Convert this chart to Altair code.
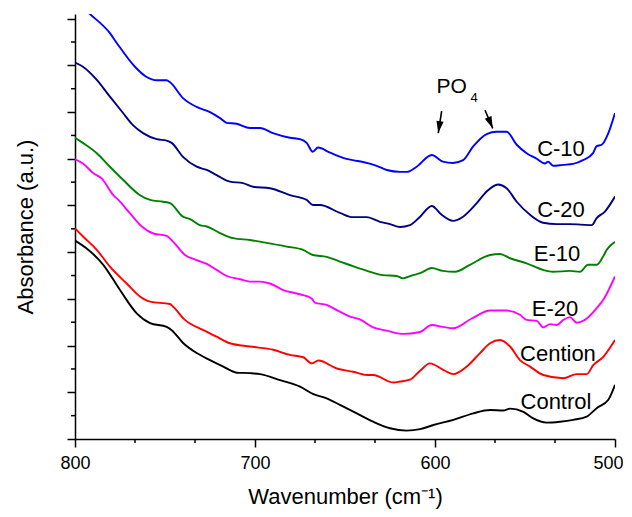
import altair as alt
import pandas as pd

# ---------------- data ----------------
wn_c10 = [800, 791.7, 780.6, 776.8, 766.7, 760.2, 754.6, 749.1, 747.2, 740, 732.4, 725, 719.4, 715.7,
          710.2, 702.8, 697.2, 690, 680.6, 675, 671.3, 667.9, 665, 658.3, 651.1, 645.6, 640, 632.4,
          626.8, 619.4, 615.7, 610.2, 601.8, 595.6, 590, 584.4, 578.9, 571.3, 565.7, 560.2, 554.6,
          549.1, 543.5, 538.9, 537.2, 534.4, 528.9, 523.3, 517.8, 512.2, 510.2, 507.4, 503.7, 500]
ab_c10 = [94.0, 91.0, 86.9, 84.8, 79.7, 77.5, 76.8, 76.8, 76.4, 73.0, 71.1, 70.0, 68.7, 67.7,
          67.5, 66.6, 66.6, 65.5, 64.5, 64.2, 63.4, 61.5, 62.4, 61.3, 60.2, 59.7, 59.3, 58.5,
          57.6, 57.2, 57.2, 58.3, 60.8, 59.4, 59.1, 59.7, 62.6, 65.3, 65.8, 65.8, 63.0,
          61.2, 60.0, 59.0, 59.4, 58.5, 58.7, 58.9, 59.7, 61.2, 62.7, 63.0, 65.5, 69.8]

wn_c20 = [800, 795.6, 787.9, 780.6, 773.3, 767.8, 762.2, 754.6, 749.1, 746.3, 740, 732.4, 726.8,
          721.3, 713.9, 706.7, 701.1, 691.7, 680.6, 671.3, 667.8, 663.9, 652.8, 645.6, 637.9, 630.6,
          625, 619.4, 613.9, 608.3, 601.8, 596.3, 590, 584.4, 576.8, 571.3, 565, 560.2, 554.6, 547.2,
          540, 532.4, 525, 512.9, 510.2, 505.6, 500]
ab_c20 = [80.6, 79.7, 76.9, 73.3, 69.8, 67.2, 65.5, 64.2, 63.9, 63.4, 60.4, 58.3, 57.6,
          56.5, 55.1, 54.8, 54.0, 53.7, 52.2, 51.2, 50.1, 50.1, 48.4, 47.5, 47.5, 46.5,
          46.0, 45.4, 45.8, 47.6, 49.9, 48.0, 46.7, 47.6, 50.5, 53.0, 54.5, 53.7, 50.8, 48.0,
          46.3, 46.0, 46.0, 45.8, 47.3, 48.7, 51.9]

wn_e10 = [800, 795.6, 787.9, 780.6, 773.3, 763.9, 758.3, 751.1, 747.2, 740, 736.1, 730.6, 726.8,
          719.4, 712.2, 702.8, 693.5, 682.4, 673.3, 667.8, 660.2, 652.8, 645.6, 636.1, 628.9, 621.3,
          617.8, 612.2, 608.3, 601.8, 595.6, 588.9, 580.6, 569.4, 563.9, 558.3, 549.1, 540, 534.4,
          525, 519.4, 515, 510.2, 506.7, 504.6, 500]
ab_e10 = [64.5, 63.4, 61.2, 58.3, 55.5, 52.2, 51.2, 50.8, 50.5, 47.6, 47.1, 45.8, 45.5,
          44.1, 43.0, 42.6, 42.0, 41.2, 40.5, 39.4, 39.0, 38.0, 37.0, 35.8, 35.1, 34.9,
          34.4, 35.1, 35.5, 36.6, 36.0, 35.8, 37.3, 39.4, 39.6, 38.7, 37.6, 36.2, 35.8,
          36.0, 35.8, 37.3, 37.3, 39.0, 40.5, 42.2]

wn_e20 = [800, 795.6, 789.8, 785.2, 778.7, 775.9, 769.4, 762.9, 756.5, 749.1, 745.4, 738.9, 732.4,
          726.8, 721.3, 715.7, 708.3, 702.8, 697.2, 691.7, 684.3, 675, 668.5, 666.7, 660.2, 654.6,
          647.2, 641.7, 634.3, 626.8, 617.8, 608.3, 601.8, 595.6, 590, 579.6, 569.4, 560.2, 552.8,
          549.1, 543.5, 539.8, 536.1, 532.4, 528.7, 525, 521.3, 515.7, 510.2, 506.5, 500]
ab_e20 = [59.9, 59.0, 56.9, 55.8, 52.2, 51.2, 48.3, 45.5, 44.0, 43.5, 42.2, 39.4, 38.3,
          37.5, 36.2, 34.9, 34.2, 33.7, 33.7, 33.3, 31.9, 31.0, 30.1, 29.2, 28.7, 27.6,
          26.2, 25.6, 23.9, 23.2, 22.5, 22.9, 24.4, 24.0, 23.7, 25.8, 27.5, 27.5, 26.6,
          25.5, 25.3, 23.9, 24.6, 24.4, 25.5, 26.1, 24.9, 25.8, 28.0, 29.8, 34.8]

wn_cen = [800, 795.4, 787.9, 780.6, 771.3, 763.9, 758.3, 747.2, 745.4, 738.9, 728.7, 721.3, 713.9,
          702.8, 689.8, 680.6, 673.2, 668.5, 664.8, 654.6, 645.4, 637.9, 634.3, 623.2, 619.4, 613.9,
          608.3, 602.8, 595.4, 589.8, 582.4, 575, 569.4, 563.9, 558.3, 552.8, 547.2, 539.8, 528.7,
          521.3, 515.7, 512.1, 506.5, 500]
ab_cen = [45.1, 43.3, 40.5, 36.9, 33.3, 30.5, 29.4, 28.9, 28.3, 25.5, 23.3, 21.9, 20.5,
          19.8, 19.1, 18.0, 17.5, 16.2, 16.8, 15.1, 14.4, 13.7, 13.7, 12.1, 12.3, 12.7,
          14.6, 16.2, 14.8, 13.9, 15.5, 18.4, 20.5, 21.2, 19.8, 16.9, 15.5, 13.7, 13.0,
          13.9, 13.9, 15.8, 17.6, 21.2]

wn_ctl = [800, 793.5, 784.3, 775, 765.7, 758.3, 749.1, 746.3, 739.8, 732.4, 725, 717.6, 710.2,
          702.8, 697.2, 686.1, 675, 667.6, 660.2, 652.8, 643.5, 634.3, 625, 615.7, 608.3, 600.9,
          589.8, 578.7, 569.4, 562.1, 558.3, 550.9, 545.4, 538, 530.6, 523.2, 515.7, 510.2, 503.7, 500]
ab_ctl = [42.5, 40.8, 37.3, 31.9, 26.9, 24.8, 24.0, 23.3, 20.5, 18.4, 16.9, 15.5, 14.2,
          14.1, 13.9, 12.6, 11.2, 9.6, 8.7, 7.3, 5.5, 3.7, 2.3, 1.8, 2.1, 3.0,
          4.1, 5.5, 6.2, 6.1, 6.5, 5.8, 4.4, 3.5, 3.7, 4.1, 4.8, 6.6, 8.4, 11.6]

series_names = ["C-10", "C-20", "E-10", "E-20", "Cention", "Control"]
series_colors = ["#0000FF", "#000080", "#008000", "#FF00FF", "#FF0000", "#000000"]

label_wn = [530, 530, 532.2, 533.3, 531.7, 532.8]
label_ab = [62.1, 49.0, 39.6, 27.8, 18.2, 7.9]

arrow_wn_start = [596.3, 572.2]
arrow_ab_start = [70.2, 70.4]
arrow_wn_tip = [598.2, 567.9]
arrow_ab_tip = [65.5, 66.5]
arrow_angle = [8.7, 337.2]

po_wn, po_ab = 590.7, 75.4
sub_wn, sub_ab = 578.3, 73.0

x_major = [800, 700, 600, 500]
x_minor = [766.67, 733.33, 666.67, 633.33, 566.67, 533.33]
y_major = [0, 10, 20, 30, 40, 50, 60, 70, 80, 90]
y_minor = [5, 15, 25, 35, 45, 55, 65, 75, 85]

# ---------------- tables ----------------
all_series = [wn_c10, wn_c20, wn_e10, wn_e20, wn_cen, wn_ctl]
all_abs = [ab_c10, ab_c20, ab_e10, ab_e20, ab_cen, ab_ctl]
rows = []
for name, xs, ys in zip(series_names, all_series, all_abs):
    for xv, yv in zip(xs, ys):
        rows.append({"series": name, "wn": xv, "abs": yv})
df = pd.DataFrame(rows)

labels_df = pd.DataFrame({"series": series_names, "wn": label_wn, "abs": label_ab})
arrows_df = pd.DataFrame({"wn": arrow_wn_start, "abs": arrow_ab_start,
                          "wn2": arrow_wn_tip, "abs2": arrow_ab_tip})
heads_df = pd.DataFrame({"wn": arrow_wn_tip, "abs": arrow_ab_tip, "ang": arrow_angle})
po_df = pd.DataFrame({"wn": [po_wn], "abs": [po_ab], "t": ["PO"]})
sub_df = pd.DataFrame({"wn": [sub_wn], "abs": [sub_ab], "t": ["4"]})
xminor_df = pd.DataFrame({"wn": x_minor})
yminor_df = pd.DataFrame({"abs": y_minor})

W, H = 540, 425
FONT = "Liberation Sans"
xscale = alt.Scale(domain=[500, 800], reverse=True, nice=False, zero=False)
yscale = alt.Scale(domain=[0, 91], nice=False, zero=False)

lines = alt.Chart(df).mark_line(strokeWidth=1.9, clip=True, interpolate="monotone").encode(
    x=alt.X("wn:Q", scale=xscale,
            axis=alt.Axis(values=x_major, format="d", title="Wavenumber (cm⁻¹)",
                          tickSize=8, tickWidth=1.5, domainWidth=1.5, labelFontSize=18,
                          labelPadding=7, titleFontSize=22, titlePadding=14, labelFlush=False,
                          labelAlign={"expr": "datum.value == 500 ? 'right' : 'center'"},
                          labelOffset={"expr": "datum.value == 500 ? 8 : 0"})),
    y=alt.Y("abs:Q", scale=yscale,
            axis=alt.Axis(values=y_major, labels=False, title="Absorbance (a.u.)",
                          tickSize=8, tickWidth=1.5, domainWidth=1.5,
                          titleFontSize=22, titlePadding=29)),
    color=alt.Color("series:N", scale=alt.Scale(domain=series_names, range=series_colors), legend=None),
)

texts = alt.Chart(labels_df).mark_text(fontSize=22, font=FONT, color="black").encode(
    x=alt.X("wn:Q", scale=xscale), y=alt.Y("abs:Q", scale=yscale), text="series:N")

shafts = alt.Chart(arrows_df).mark_rule(strokeWidth=1.6, color="black").encode(
    x=alt.X("wn:Q", scale=xscale), y=alt.Y("abs:Q", scale=yscale), x2="wn2:Q", y2="abs2:Q")

heads = alt.Chart(heads_df).mark_point(
    shape="M0,0 L-0.6,-2 L0.6,-2 Z", filled=True, size=144, color="black", opacity=1).encode(
    x=alt.X("wn:Q", scale=xscale), y=alt.Y("abs:Q", scale=yscale), angle=alt.Angle("ang:Q", scale=None))

po_text = alt.Chart(po_df).mark_text(fontSize=21, font=FONT, color="black").encode(
    x=alt.X("wn:Q", scale=xscale), y=alt.Y("abs:Q", scale=yscale), text="t:N")
sub_text = alt.Chart(sub_df).mark_text(fontSize=13, font=FONT, color="black").encode(
    x=alt.X("wn:Q", scale=xscale), y=alt.Y("abs:Q", scale=yscale), text="t:N")

xminor = alt.Chart(xminor_df).mark_rule(strokeWidth=1.5, color="black").encode(
    x=alt.X("wn:Q", scale=xscale), y=alt.value(H), y2=alt.value(H + 4))
yminor = alt.Chart(yminor_df).mark_rule(strokeWidth=1.5, color="black").encode(
    y=alt.Y("abs:Q", scale=yscale), x=alt.value(-4), x2=alt.value(0))

chart = alt.layer(lines, texts, shafts, heads, po_text, sub_text, xminor, yminor).properties(
    width=W, height=H,
    autosize=alt.AutoSizeParams(type="none"),
    padding={"left": 67, "top": 6, "right": 8, "bottom": 72},
).configure_view(stroke=None).configure_axis(
    grid=False, domainColor="black", tickColor="black", labelColor="black", titleColor="black",
    labelFont=FONT, titleFont=FONT, titleFontWeight="normal",
)

chart.save("out.html", embed_options={"renderer": "svg", "actions": False})
